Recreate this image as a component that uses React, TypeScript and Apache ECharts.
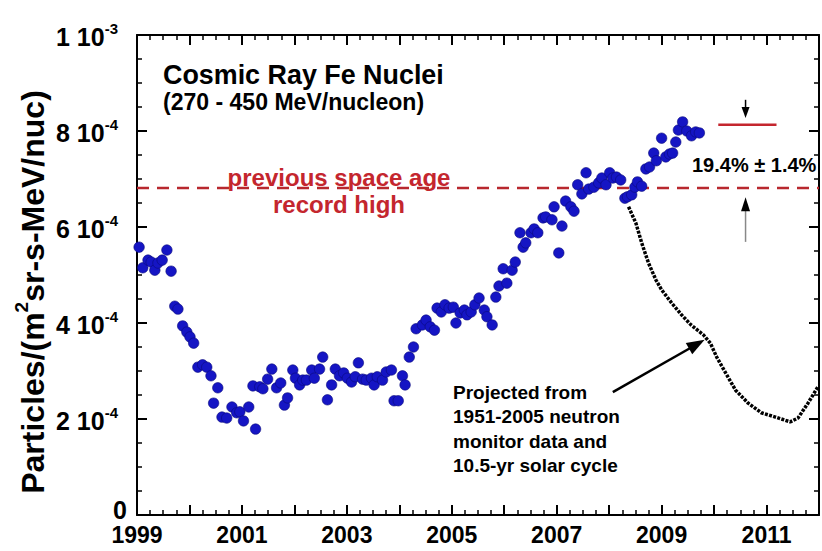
import React, { useEffect, useRef } from "react";
import * as echarts from "echarts";

const FONT = "'Liberation Sans', Arial, Helvetica, sans-serif";

// Observed Fe flux, in units of 1e-4 particles/(m2 sr s MeV/nuc)
const obsYears = [
  1999.04, 1999.11, 1999.21, 1999.27, 1999.34, 1999.40, 1999.48, 1999.57, 1999.65, 1999.72,
  1999.78, 1999.87, 1999.95, 2000.01, 2000.08, 2000.16, 2000.25, 2000.33, 2000.41, 2000.46,
  2000.54, 2000.62, 2000.71, 2000.81, 2000.90, 2000.96, 2001.03, 2001.13, 2001.21, 2001.26,
  2001.34, 2001.40, 2001.49, 2001.57, 2001.66, 2001.74, 2001.81, 2001.87, 2001.97, 2002.02,
  2002.10, 2002.16, 2002.23, 2002.33, 2002.38, 2002.48, 2002.54, 2002.63, 2002.71, 2002.78,
  2002.86, 2002.94, 2003.01, 2003.09, 2003.16, 2003.22, 2003.30, 2003.37, 2003.47, 2003.52,
  2003.58, 2003.68, 2003.75, 2003.85, 2003.90, 2003.98, 2004.06, 2004.11, 2004.19, 2004.27,
  2004.32, 2004.44, 2004.51, 2004.59, 2004.67, 2004.72, 2004.80, 2004.87, 2004.95, 2005.03,
  2005.08, 2005.16, 2005.24, 2005.29, 2005.37, 2005.44, 2005.52, 2005.62, 2005.67, 2005.77,
  2005.84, 2005.90, 2005.98, 2006.05, 2006.15, 2006.21, 2006.30, 2006.36, 2006.41, 2006.51,
  2006.57, 2006.64, 2006.74, 2006.79, 2006.91, 2006.95, 2007.04, 2007.10, 2007.17, 2007.27,
  2007.33, 2007.40, 2007.48, 2007.56, 2007.61, 2007.71, 2007.80, 2007.86, 2007.94, 2008.01,
  2008.07, 2008.14, 2008.22, 2008.30, 2008.35, 2008.43, 2008.49, 2008.54, 2008.62, 2008.70,
  2008.77, 2008.85, 2008.90, 2009.00, 2009.08, 2009.15, 2009.21, 2009.27, 2009.32, 2009.40,
  2009.48, 2009.57, 2009.65, 2009.72,
];
const obsFlux = [
  5.58, 5.15, 5.31, 5.27, 5.10, 5.25, 5.31, 5.52, 5.08, 4.35,
  4.29, 3.94, 3.81, 3.71, 3.58, 3.08, 3.13, 3.08, 2.90, 2.33,
  2.65, 2.04, 2.02, 2.25, 2.13, 2.15, 1.96, 2.25, 2.69, 1.79,
  2.67, 2.63, 2.83, 3.04, 2.65, 2.75, 2.29, 2.44, 3.02, 2.85,
  2.71, 2.81, 2.81, 3.02, 2.85, 3.04, 3.29, 2.40, 2.71, 3.04,
  2.90, 2.96, 2.85, 2.77, 2.88, 3.17, 2.83, 2.81, 2.85, 2.71,
  2.88, 2.81, 2.98, 3.02, 2.38, 2.38, 2.90, 2.71, 3.29, 3.50,
  3.88, 3.96, 4.06, 3.92, 3.85, 4.31, 4.23, 4.38, 4.31, 4.33,
  4.00, 4.21, 4.27, 4.17, 4.23, 4.38, 4.52, 4.27, 4.13, 3.96,
  4.54, 4.77, 5.13, 4.83, 5.10, 5.27, 5.88, 5.58, 5.67, 5.88,
  5.96, 5.88, 6.19, 6.21, 6.15, 6.42, 5.46, 6.02, 6.54, 6.42,
  6.33, 6.88, 6.69, 7.13, 6.79, 6.83, 6.92, 7.02, 6.88, 7.13,
  7.02, 7.04, 6.98, 6.60, 6.63, 6.67, 6.83, 6.94, 6.85, 7.21,
  7.25, 7.54, 7.38, 7.85, 7.46, 7.52, 7.54, 7.77, 8.02, 8.19,
  8.00, 7.90, 7.98, 7.96,
];

// Projection from neutron monitor data (same units)
const projYears = [
  2008.37, 2008.51, 2008.62, 2008.75, 2008.89, 2009.00, 2009.19, 2009.38, 2009.56, 2009.80,
  2009.93, 2010.05, 2010.22, 2010.41, 2010.65, 2010.90, 2011.17, 2011.45, 2011.60, 2011.79,
  2011.98,
];
const projFlux = [
  6.42, 6.08, 5.67, 5.25, 4.90, 4.69, 4.42, 4.17, 3.96, 3.75,
  3.58, 3.29, 2.96, 2.60, 2.33, 2.13, 2.04, 1.94, 2.02, 2.33,
  2.67,
];

const recordHighFlux = 6.81;
const newRecordFlux = 8.13;
const newRecordYears = [2010.08, 2011.19];

const xLabelYears = [1999, 2001, 2003, 2005, 2007, 2009, 2011];
const yTickValues = [0, 2, 4, 6, 8, 10];
const yTickMantissa = ["0", "2 10", "4 10", "6 10", "8 10", "1 10"];
const yTickExponent = ["", "-4", "-4", "-4", "-4", "-3"];

const titleLines = ["Cosmic Ray Fe Nuclei", "(270 - 450 MeV/nucleon)"];
const recordLines = ["previous space age", "record high"];
const projLines = ["Projected from", "1951-2005 neutron", "monitor data and", "10.5-yr solar cycle"];
const increaseLabel = "19.4% \u00b1 1.4%";

const RED = "#c4262e";
const BLUE = "#1515c4";

export default function App() {
  const ref = useRef<HTMLDivElement>(null);

  useEffect(() => {
    const chart = echarts.init(ref.current!, null, { renderer: "svg" });

    const line = { show: true, onZero: false, lineStyle: { color: "#000", width: 2 } };
    const tick = { show: true, inside: true, length: 10, lineStyle: { color: "#000", width: 2 } };
    const minor = { show: true, splitNumber: 4, length: 5, lineStyle: { color: "#000", width: 1.5 } };

    const xBase = {
      type: "value", min: 1999, max: 2012, interval: 1,
      axisLine: line, axisTick: tick, minorTick: minor,
      splitLine: { show: false }, minorSplitLine: { show: false },
    };
    const yBase = {
      type: "value", min: 0, max: 10, interval: 2,
      axisLine: line, axisTick: tick, minorTick: minor,
      splitLine: { show: false }, minorSplitLine: { show: false },
    };
    const lab = { fontWeight: "bold", fontFamily: FONT, color: "#000" };
    const idxOf = (v: number) => yTickValues.indexOf(Math.round(v));

    chart.setOption({
      animation: false,
      backgroundColor: "#fff",
      grid: { left: 137, right: 1, top: 35, bottom: 36 },
      xAxis: [
        {
          ...xBase, position: "bottom",
          axisLabel: {
            margin: 8, color: "#000", fontFamily: FONT, fontWeight: "bold", fontSize: 23,
            formatter: (v: number) => (xLabelYears.includes(Math.round(v)) ? String(Math.round(v)) : ""),
          },
        },
        { ...xBase, position: "top", axisLabel: { show: false } },
      ],
      yAxis: [
        {
          ...yBase, position: "left",
          axisLabel: {
            margin: 19, color: "#000",
            formatter: (v: number) => {
              const i = idxOf(v);
              if (i < 0 || !yTickExponent[i]) return "";
              return `{b|${yTickMantissa[i]}}{s|${yTickExponent[i]}}`;
            },
            rich: {
              b: { ...lab, fontSize: 25, lineHeight: 29, verticalAlign: "bottom" },
              s: { ...lab, fontSize: 15, lineHeight: 15, verticalAlign: "top" },
            },
          },
        },
        { ...yBase, position: "right", axisLabel: { show: false } },
        {
          ...yBase, position: "left",
          axisLine: { show: false }, axisTick: { show: false }, minorTick: { show: false },
          axisLabel: {
            margin: 10, color: "#000",
            formatter: (v: number) => {
              const i = idxOf(v);
              return i >= 0 && !yTickExponent[i] ? `{z|${yTickMantissa[i]}}` : "";
            },
            rich: { z: { ...lab, fontSize: 25, lineHeight: 28, padding: [0, 0, 10, 0] } },
          },
        },
      ],
      series: [
        {
          type: "line", name: "record", silent: true, symbol: "none", z: 1,
          data: [[1999, recordHighFlux], [2012, recordHighFlux]],
          lineStyle: { color: "#b8282e", width: 2.5, type: [12, 8] },
        },
        {
          type: "line", name: "projection", silent: true, symbol: "none", z: 2,
          data: projYears.map((x, i) => [x, projFlux[i]]),
          lineStyle: { color: "#000", width: 3.5, type: [3, 1.3] },
        },
        {
          type: "line", name: "new", silent: true, symbol: "none", z: 2,
          data: newRecordYears.map((x) => [x, newRecordFlux]),
          lineStyle: { color: RED, width: 2.5 },
        },
        {
          type: "scatter", name: "obs", silent: true, z: 3, symbolSize: 10.5,
          data: obsYears.map((x, i) => [x, obsFlux[i]]),
          itemStyle: { color: BLUE, borderColor: "#0a0a7a", borderWidth: 0.6, opacity: 1 },
        },
      ],
    });

    const P = (x: number, y: number) =>
      chart.convertToPixel({ xAxisIndex: 0, yAxisIndex: 0 }, [x, y]) as number[];

    const arrow = (from: number[], to: number[], headLen: number, headW: number, width: number, shaft: string, head: string) => {
      const dx = to[0] - from[0], dy = to[1] - from[1];
      const len = Math.hypot(dx, dy);
      const ux = dx / len, uy = dy / len;
      const bx = to[0] - ux * headLen, by = to[1] - uy * headLen;
      const px = -uy * headW / 2, py = ux * headW / 2;
      return [
        { type: "line", shape: { x1: from[0], y1: from[1], x2: bx + ux, y2: by + uy }, style: { stroke: shaft, lineWidth: width }, silent: true },
        { type: "polygon", shape: { points: [[to[0], to[1]], [bx + px, by + py], [bx - px, by - py]] }, style: { fill: head }, silent: true },
      ];
    };

    const arrowX = 2010.6;
    const txt = (text: string, x: number, y: number, size: number, color: string, align = "left", sx = 1) => ({
      type: "text", x, y, scaleX: sx, silent: true,
      style: { text, fill: color, fontFamily: FONT, fontWeight: "bold", fontSize: size, align, verticalAlign: "middle" },
    });

    chart.setOption({
      graphic: [
        ...arrow(P(arrowX, 8.65), P(arrowX, 8.27), 11, 8, 1.5, "#000", "#000"),
        ...arrow(P(arrowX, 5.69), P(arrowX, 6.62), 14, 9, 1.5, "#888", "#000"),
        ...arrow(P(2008.07, 2.56), P(2009.82, 3.65), 18, 13, 2.5, "#000", "#000"),
        txt(titleLines[0], 163, 74, 28, "#000", "left", 0.96),
        txt(titleLines[1], 163, 102, 24, "#000", "left", 0.96),
        txt(recordLines[0], 339, 177, 24, RED, "center"),
        txt(recordLines[1], 339, 204, 24, RED, "center"),
        txt(increaseLabel, 692, 165, 20, "#000"),
        ...projLines.map((t, i) => txt(t, 453, 392 + i * 24.5, 19, "#000")),
        {
          type: "text", x: 30, y: 292, rotation: Math.PI / 2, silent: true,
          style: {
            text: "{a|Particles/(m}{s|2}{a|sr-s-MeV/nuc)}",
            align: "center", verticalAlign: "middle",
            rich: {
              a: { fontSize: 32, fontWeight: "bold", fontFamily: FONT, fill: "#000", lineHeight: 37, verticalAlign: "bottom" },
              s: { fontSize: 19, fontWeight: "bold", fontFamily: FONT, fill: "#000", lineHeight: 19, verticalAlign: "top" },
            },
          },
        },
      ],
    });

    return () => chart.dispose();
  }, []);

  return (
    <div
      ref={ref}
      style={{ position: "fixed", left: 0, top: 0, width: 822, height: 551, background: "#fff" }}
    />
  );
}
